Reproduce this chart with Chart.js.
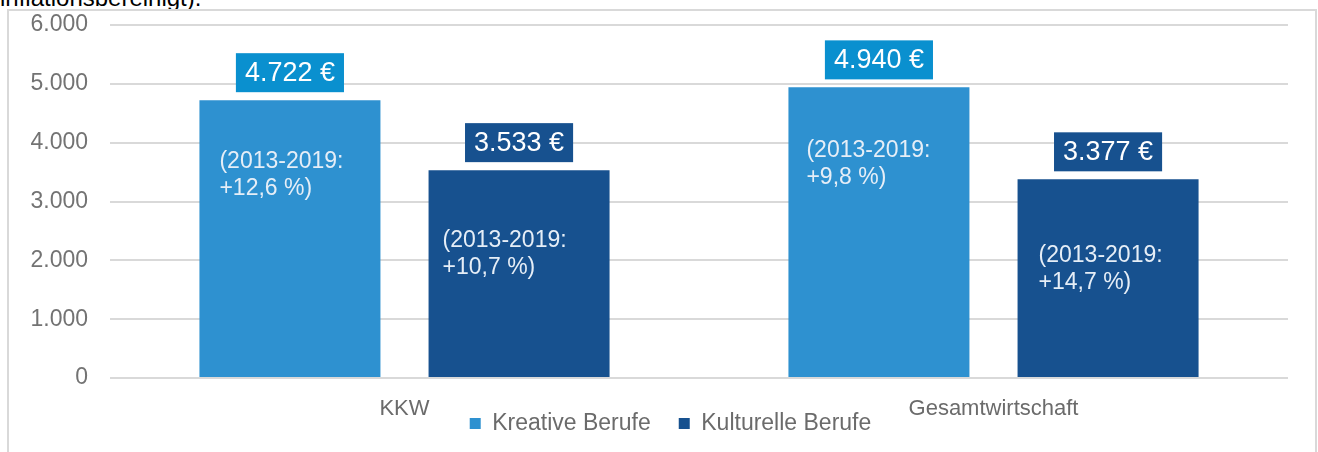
<!DOCTYPE html>
<html lang="de">
<head>
<meta charset="utf-8">
<script src="https://cdn.jsdelivr.net/npm/chart.js@4.4.1/dist/chart.umd.min.js"></script>
<style>
  html, body { margin: 0; padding: 0; background: #fff; overflow: hidden; width: 1318px; height: 452px; }
  #caption { position: absolute; left: 0; top: -16px; font: 24px "Liberation Sans", Arial, sans-serif; color: #000; white-space: nowrap; }
  #frame { position: absolute; left: 7px; top: 9px; width: 1306px; height: 500px; border: 2px solid #d9d9d9; }
  #bars { position: absolute; left: 0; top: 0; }
</style>
</head>
<body>
<div id="caption">inflationsbereinigt).</div>
<div id="frame"><canvas id="bars" width="1306" height="470"></canvas></div>
<script>
const categories = ["KKW", "Gesamtwirtschaft"];
const seriesNames = ["Kreative Berufe", "Kulturelle Berufe"];
const kreativeValues = [4722, 4940];
const kulturelleValues = [3533, 3377];
const changePeriod = "(2013-2019:";
const kreativeChange = ["+12,6 %", "+9,8 %"];
const kulturelleChange = ["+10,7 %", "+14,7 %"];
const yMin = 0, yMax = 6000, yStep = 1000;

const FONT = '"Liberation Sans", Arial, sans-serif';
const barColors = ["#2e91d0", "#17518f"];
const labelBoxColors = ["#0a90cf", "#17518f"];
const changeTexts = [kreativeChange, kulturelleChange];

// hand placed text boxes inside the bars in the original (px from bar top / bar left)
const innerOffsetY = [[61, 63], [71, 76]];
const innerOffsetX = [[20, 18], [14, 21]];
// legend sits tight under the axis labels in the original
const LEGEND_LIFT = 36;
const LEGEND_SHIFT = 22;

function fmt(v) {
  return String(v).replace(/\B(?=(\d{3})+(?!\d))/g, ".");
}

const barLabels = {
  id: "barLabels",
  afterLayout(chart) {
    const lg = chart.legend;
    lg.top -= LEGEND_LIFT;
    lg.bottom -= LEGEND_LIFT;
    lg.left += LEGEND_SHIFT;
    lg.right += LEGEND_SHIFT;
  },
  afterDatasetsDraw(chart) {
    const c = chart.ctx;
    chart.data.datasets.forEach((ds, di) => {
      chart.getDatasetMeta(di).data.forEach((bar, i) => {
        const left = bar.x - bar.width / 2;
        // value box above the bar
        c.save();
        c.font = "27px " + FONT;
        const txt = fmt(ds.data[i]) + " €";
        const tw = c.measureText(txt).width;
        const bw = tw + 18, bh = 39;
        const by = bar.y - 8 - bh;
        c.fillStyle = labelBoxColors[di];
        c.fillRect(bar.x - bw / 2, by, bw, bh);
        c.fillStyle = "#ffffff";
        c.textAlign = "center";
        c.textBaseline = "middle";
        c.fillText(txt, bar.x, by + bh / 2 + 1);
        // change text inside the bar
        c.font = "23px " + FONT;
        c.fillStyle = "#e6eef7";
        c.textAlign = "left";
        const ty = bar.y + innerOffsetY[di][i];
        const tx = left + innerOffsetX[di][i];
        c.fillText(changePeriod, tx, ty);
        c.fillText(changeTexts[di][i] + ")", tx, ty + 27);
        c.restore();
      });
    });
  }
};

new Chart(document.getElementById("bars"), {
  type: "bar",
  data: {
    labels: categories,
    datasets: [
      { label: seriesNames[0], data: kreativeValues, backgroundColor: barColors[0], borderWidth: 0 },
      { label: seriesNames[1], data: kulturelleValues, backgroundColor: barColors[1], borderWidth: 0 },
    ],
  },
  options: {
    responsive: false,
    animation: false,
    devicePixelRatio: 1,
    datasets: { bar: { categoryPercentage: 0.778, barPercentage: 0.79 } },
    layout: { padding: { top: 14, right: 27, bottom: 0, left: 0 } },
    plugins: {
      legend: {
        position: "bottom",
        labels: {
          boxWidth: 11,
          boxHeight: 11,
          padding: 28,
          color: "#6b6b6b",
          font: { family: FONT, size: 23 },
        },
      },
      tooltip: { enabled: false },
    },
    scales: {
      x: {
        grid: { display: false },
        border: { display: false },
        ticks: { color: "#6b6b6b", padding: 10, font: { family: FONT, size: 22 } },
        afterFit: (s) => { s.height = 42; },
      },
      y: {
        min: yMin,
        max: yMax,
        grid: { color: "#d9d9d9", lineWidth: 2, drawTicks: false },
        border: { display: false },
        ticks: {
          stepSize: yStep,
          padding: 22,
          color: "#737373",
          font: { family: FONT, size: 23 },
          callback: (v) => fmt(v),
        },
        afterFit: (s) => {
          s.width = 101;
          s.paddingTop = 0;
          s.paddingBottom = 0;
        },
      },
    },
  },
  plugins: [barLabels],
});
</script>
</body>
</html>
